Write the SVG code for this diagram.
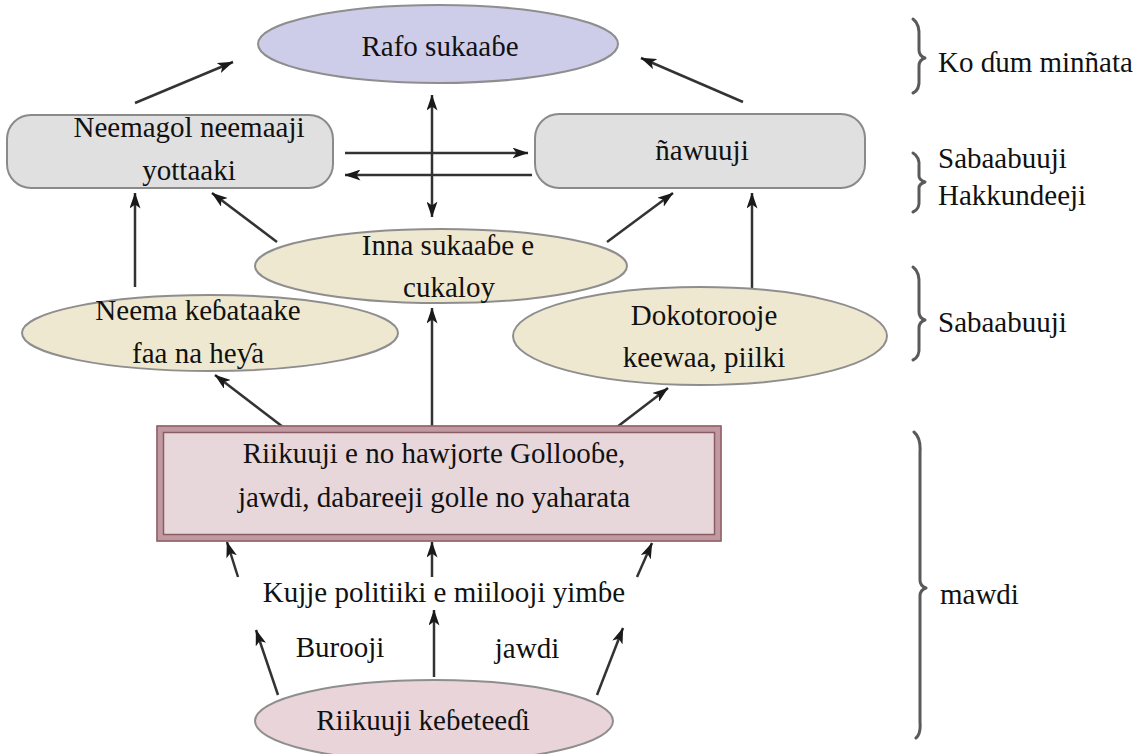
<svg xmlns="http://www.w3.org/2000/svg" width="1141" height="754" viewBox="0 0 1141 754">
<style>
text{font-family:"Liberation Serif","Times New Roman",serif;font-size:29px;fill:#111;text-anchor:middle}
.lbl{text-anchor:start}
.c{stroke:#333;stroke-width:2.5;fill:none}
.br{stroke:#5a5a5a;stroke-width:3;fill:none;stroke-linecap:round;stroke-linejoin:round}
.ell{stroke:#8e8e8e;stroke-width:2}
.rr{fill:#e0e0e0;stroke:#8a8a8a;stroke-width:2}
</style>
<defs>
<marker id="ah" viewBox="0 0 16 11" refX="15.5" refY="5.5" markerWidth="6.4" markerHeight="4.4" orient="auto-start-reverse" markerUnits="strokeWidth">
<path d="M0,0 L16,5.5 L0,11 L4,5.5 Z" fill="#1a1a1a"/>
</marker>
</defs>
<rect width="1141" height="754" fill="#fff"/>

<g id="connectors">
<line class="c" x1="135" y1="103" x2="233" y2="62" marker-end="url(#ah)"/>
<line class="c" x1="743" y1="102" x2="641" y2="58" marker-end="url(#ah)"/>
<line class="c" x1="432" y1="217" x2="432" y2="95" marker-end="url(#ah)" marker-start="url(#ah)"/>
<line class="c" x1="345" y1="153" x2="528" y2="153" marker-end="url(#ah)"/>
<line class="c" x1="532" y1="175" x2="345" y2="175" marker-end="url(#ah)"/>
<line class="c" x1="135" y1="287" x2="135" y2="193" marker-end="url(#ah)"/>
<line class="c" x1="277" y1="242" x2="212" y2="193" marker-end="url(#ah)"/>
<line class="c" x1="607" y1="242" x2="673" y2="193" marker-end="url(#ah)"/>
<line class="c" x1="752" y1="288" x2="752" y2="193" marker-end="url(#ah)"/>
<line class="c" x1="432" y1="427" x2="432" y2="308" marker-end="url(#ah)"/>
<line class="c" x1="283" y1="427" x2="215" y2="375" marker-end="url(#ah)"/>
<line class="c" x1="617" y1="427" x2="668" y2="388" marker-end="url(#ah)"/>
<line class="c" x1="238" y1="577" x2="227" y2="542" marker-end="url(#ah)"/>
<line class="c" x1="432" y1="577" x2="432" y2="542" marker-end="url(#ah)"/>
<line class="c" x1="637" y1="577" x2="652" y2="543" marker-end="url(#ah)"/>
<line class="c" x1="278" y1="695" x2="256" y2="630" marker-end="url(#ah)"/>
<line class="c" x1="434" y1="677" x2="434" y2="610" marker-end="url(#ah)"/>
<line class="c" x1="597" y1="695" x2="623" y2="628" marker-end="url(#ah)"/>
</g>

<g id="n-rafo">
<ellipse class="ell" cx="438" cy="44" rx="180" ry="39" fill="#cdcdea"/>
<text x="440" y="56">Rafo sukaaɓe</text>
</g>
<g id="n-neemagol">
<rect class="rr" x="7" y="115" width="326" height="73" rx="24"/>
<text x="189" y="137">Neemagol neemaaji</text>
<text x="189" y="180">yottaaki</text>
</g>
<g id="n-nawuuji">
<rect class="rr" x="535" y="114" width="330" height="74" rx="24"/>
<text x="702" y="160">ñawuuji</text>
</g>
<g id="n-inna">
<ellipse class="ell" cx="441" cy="266" rx="186" ry="37" fill="#efe8d0"/>
<text x="448" y="255">Inna sukaaɓe e</text>
<text x="449" y="297">cukaloy</text>
</g>
<g id="n-neema">
<ellipse class="ell" cx="210" cy="333" rx="188" ry="38" fill="#efe8d0"/>
<text x="198" y="320">Neema keɓataake</text>
<text x="198" y="363">faa na heƴa</text>
</g>
<g id="n-dokotorooje">
<ellipse class="ell" cx="700" cy="336" rx="187" ry="49" fill="#efe8d0"/>
<text x="704" y="325">Dokotorooje</text>
<text x="704" y="367">keewaa, piilki</text>
</g>
<g id="n-riikuuji-golle">
<rect x="160" y="429" width="558" height="109" fill="#e7d7da" stroke="#c19aa1" stroke-width="7"/>
<rect x="157" y="426" width="564" height="115" fill="none" stroke="#8c5c64" stroke-width="1.5"/>
<rect x="163.5" y="432.5" width="551" height="102" fill="none" stroke="#8c5c64" stroke-width="1.5"/>
<text x="434" y="463">Riikuuji e no hawjorte Gollooɓe,</text>
<text x="434" y="507">jawdi, dabareeji golle no yaharata</text>
</g>
<g id="n-kujje">
<text x="444" y="602">Kujje politiiki e miilooji yimɓe</text>
</g>
<g id="n-burooji"><text x="340" y="657">Burooji</text></g>
<g id="n-jawdi"><text x="527" y="658">jawdi</text></g>
<g id="n-riikuuji-kebeteedi">
<ellipse class="ell" cx="434" cy="721" rx="179" ry="41" fill="#e9d5d9"/>
<text x="423" y="730">Riikuuji keɓeteeɗi</text>
</g>

<g id="braces">
<path class="br" d="M913,19 Q920,24 919,38 L919,50 Q919,56 925,58 Q919,60 919,66 L919,78 Q920,90 913,93"/>
<text class="lbl" x="938" y="72">Ko ɗum minñata</text>
<path class="br" d="M913,153 Q920,157 919,167 L919,176 Q919,180 925,182 Q919,184 919,188 L919,200 Q920,209 913,212"/>
<text class="lbl" x="938" y="168">Sabaabuuji</text>
<text class="lbl" x="938" y="205">Hakkundeeji</text>
<path class="br" d="M913,267 Q920,272 919,286 L919,312 Q919,318 925,320 Q919,322 919,328 L919,346 Q920,357 913,360"/>
<text class="lbl" x="938" y="332">Sabaabuuji</text>
<path class="br" d="M914,432 Q921,438 920,452 L920,580 Q920,586 926,588 Q920,590 920,596 L920,722 Q921,734 916,738"/>
<text class="lbl" x="940" y="604">mawdi</text>
</g>
</svg>
